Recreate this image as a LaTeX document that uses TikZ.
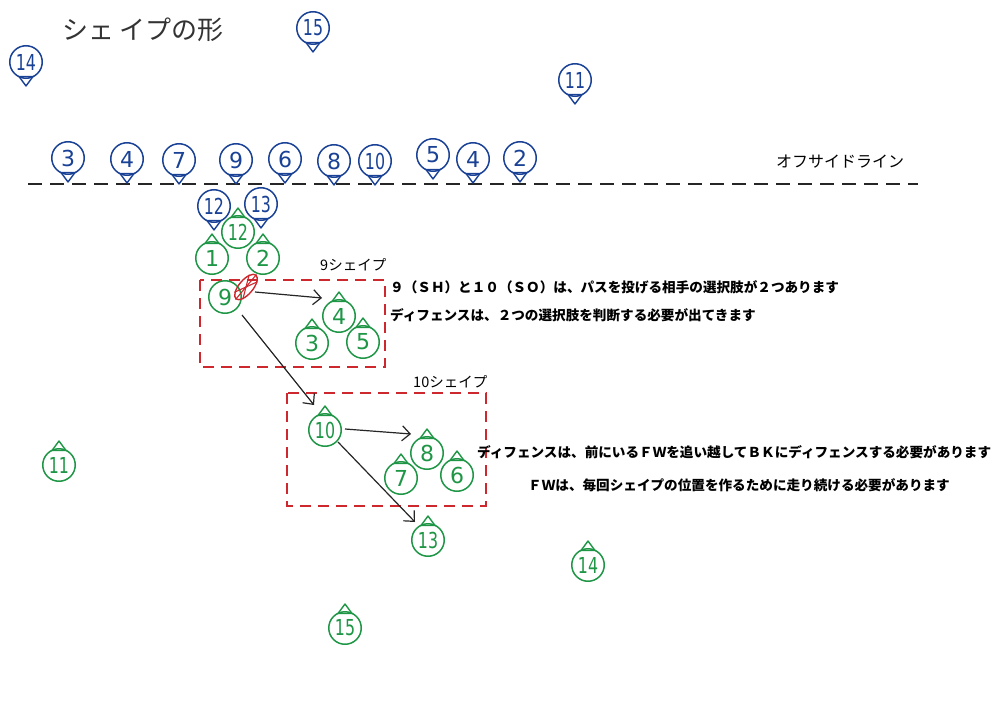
\documentclass[tikz,border=0pt]{standalone}
\usepackage{fontspec}
\usepackage{graphicx}
\usetikzlibrary{arrows.meta,shapes.geometric}
\newfontfamily\jp{Noto Sans CJK JP}
\newfontfamily\numf{DejaVu Sans}
\definecolor{bl}{RGB}{25,65,150}
\definecolor{gr}{RGB}{30,150,70}
\definecolor{rd}{RGB}{205,40,45}
\newcommand\dd[1]{\scalebox{0.72}[1]{#1}}
\newcommand\bmark[4]{%
  \node[bmk] (#1) at (#2,#3) {#4};
  \draw[bl,mk] ([shift={(-7,14.5)}]#1.center) -- ([shift={(0,24)}]#1.center) -- ([shift={(7,14.5)}]#1.center) -- cycle;}
\newcommand\gmark[4]{%
  \node[gmk] (#1) at (#2,#3) {#4};
  \draw[gr,mk] ([shift={(-7,-14.5)}]#1.center) -- ([shift={(0,-24)}]#1.center) -- ([shift={(7,-14.5)}]#1.center) -- cycle;}
\tikzset{
  mk/.style={line width=1.4pt, line join=round},
  pl/.style={circle, line width=1.5pt, minimum size=32.5pt, inner sep=0pt, font=\numf\fontsize{22}{22}\selectfont},
  bmk/.style={pl, draw=bl, text=bl},
  gmk/.style={pl, draw=gr, text=gr},
  arr/.style={-{Straight Barb[length=8pt,width=15pt]}, line width=1.2pt, black!85},
  zone/.style={draw=rd, line width=1.8pt, dash pattern=on 11pt off 7pt},
  offside/.style={line width=1.8pt, black!85, dash pattern=on 14pt off 8pt},
  bodytxt/.style={anchor=west, inner sep=0pt, font=\jp\bfseries\fontsize{13.6}{13.6}\selectfont},
}
\begin{document}
\begin{tikzpicture}[x=1pt,y=-1pt]
\useasboundingbox (0,0) rectangle (993,706);
\fill[white] (0,0) rectangle (993,706);

% title and labels
\node[font=\jp\fontsize{26}{26}\selectfont, text=black!80, inner sep=0pt] (title) at (143,30) {シェ\,イプの形};
\node[font=\jp\fontsize{16}{16}\selectfont, inner sep=0pt] (offl) at (840,162) {オフサイドライン};

% offside line
\coordinate (ol1) at (28,184);
\coordinate (ol2) at (918,184);
\draw[offside] (ol1) -- (ol2);

% shape zones
\draw[zone] (200,280) rectangle (385,367);
\draw[zone] (287,393) rectangle (486,506);
\node[anchor=west, inner sep=0pt, font=\jp\fontsize{14.5}{14.5}\selectfont] (l9) at (320,265) {9シェイプ};
\node[anchor=west, inner sep=0pt, font=\jp\fontsize{14.5}{14.5}\selectfont] (l10) at (413,382) {10シェイプ};

% blue players
\bmark{b14}{26}{62}{\dd{14}}
\bmark{b15}{313}{28}{\dd{15}}
\bmark{b11}{575}{80}{\dd{11}}
\bmark{b3}{68}{158}{3}
\bmark{b4}{127}{159}{4}
\bmark{b7}{179}{160}{7}
\bmark{b9}{236}{160}{9}
\bmark{b6}{285}{159}{6}
\bmark{b8}{334}{161}{8}
\bmark{b10}{375}{161}{\dd{10}}
\bmark{b5}{433}{155}{5}
\bmark{b4b}{473}{159}{4}
\bmark{b2}{520}{158}{2}
\bmark{b12}{214}{206}{\dd{12}}
\bmark{b13}{261}{204}{\dd{13}}

% green players
\gmark{g12}{238}{232}{\dd{12}}
\gmark{g1}{212}{258}{1}
\gmark{g2}{263}{258}{2}
\node[gmk] (g9) at (225,297) {9};
\gmark{g4}{339}{316}{4}
\gmark{g3}{312}{343}{3}
\gmark{g5}{363}{342}{5}
\gmark{g10}{325}{430}{\dd{10}}
\gmark{g8}{427}{453}{8}
\gmark{g7}{401}{478}{7}
\gmark{g6}{457}{475}{6}
\gmark{g13}{428}{540}{\dd{13}}
\gmark{g11}{59}{465}{\dd{11}}
\gmark{g14}{588}{565}{\dd{14}}
\gmark{g15}{345}{628}{\dd{15}}

% ball
\node[ellipse, draw=rd, line width=1.4pt, minimum width=31pt, minimum height=14pt, inner sep=0pt, rotate=50] (ball) at (246,287) {};
\draw[rd, line width=1.1pt] (ball.west) -- (ball.east);
\draw[rd, line width=1.1pt] (ball.north west) -- (ball.south east);
\draw[rd, line width=1.1pt] (ball.north east) -- (ball.south west);

% arrows
\coordinate (e1) at (322,298);
\draw[arr] ([shift={(30,-5)}]g9.center) -- (e1);
\coordinate (e2) at (314,405);
\draw[arr] ([shift={(17,18)}]g9.center) -- (e2);
\coordinate (e3) at (411,434);
\draw[arr] ([shift={(20,-1)}]g10.center) -- (e3);
\coordinate (e4) at (415,522);
\draw[arr] ([shift={(13,12)}]g10.center) -- (e4);

% explanations
\node[bodytxt] (t1) at (390,287) {９（ＳＨ）と１０（ＳＯ）は、パスを投げる相手の選択肢が２つあります};
\node[bodytxt] (t2) at (390,315) {ディフェンスは、２つの選択肢を判断する必要が出てきます};
\node[bodytxt] (t3) at (477,452) {ディフェンスは、前にいるＦＷを追い越してＢＫにディフェンスする必要があります};
\node[bodytxt] (t4) at (528,485) {ＦＷは、毎回シェイプの位置を作るために走り続ける必要があります};
\end{tikzpicture}
\end{document}
